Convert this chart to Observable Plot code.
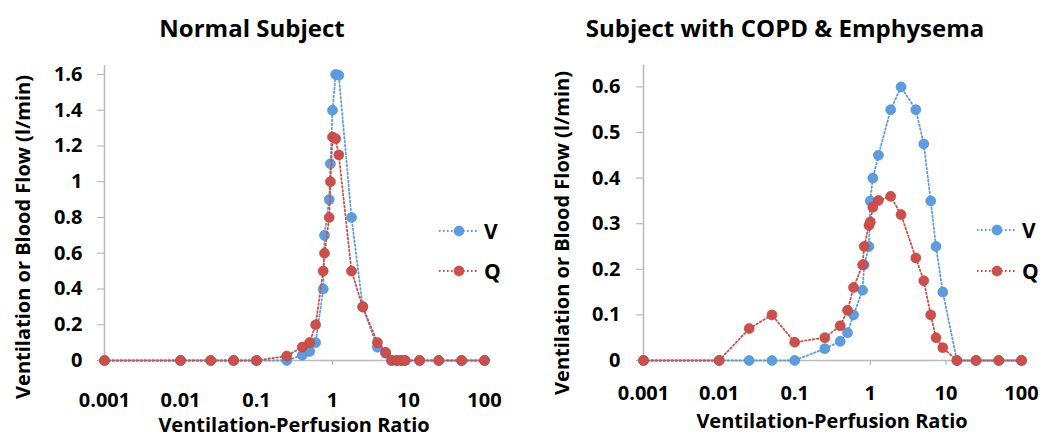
<!DOCTYPE html>
<html><head><meta charset="utf-8">
<script src="https://cdn.jsdelivr.net/npm/d3@7"></script>
<script src="https://cdn.jsdelivr.net/npm/@observablehq/plot@0.6"></script>
<style>
html,body{margin:0;padding:0;background:#fff;}
#root{position:relative;width:1045px;height:438px;overflow:hidden;font-family:"Open Sans",sans-serif;font-weight:700;color:#000;}
.abs{position:absolute;white-space:nowrap;line-height:1;}
</style></head><body><div id="root"></div>
<script>
// ---- data ----
const normalRatio = [0.001, 0.01, 0.025, 0.05, 0.1, 0.25, 0.4, 0.5, 0.6, 0.755, 0.785, 0.905, 0.94, 1.0, 1.1, 1.21, 1.78, 2.5, 3.9, 5, 6, 7, 8, 9, 14, 25, 50, 100];
const normalV = [0, 0, 0, 0, 0, 0, 0.03, 0.05, 0.10, 0.40, 0.70, 0.90, 1.10, 1.40, 1.60, 1.595, 0.80, 0.30, 0.074, 0.04, 0, 0, 0, 0, 0, 0, 0, 0];
const normalQ = [0, 0, 0, 0, 0, 0.025, 0.075, 0.10, 0.20, 0.50, 0.60, 0.80, 1.00, 1.25, 1.24, 1.15, 0.50, 0.30, 0.10, 0.046, 0, 0, 0, 0, 0, 0, 0, 0];

const copdRatio = [0.001, 0.01, 0.025, 0.05, 0.1, 0.25, 0.4, 0.5, 0.6, 0.79, 0.83, 0.96, 1.0, 1.08, 1.28, 1.86, 2.55, 4.0, 5.1, 6.3, 7.4, 9.1, 14, 25, 50, 100];
const copdV = [0, 0, 0, 0, 0, 0.026, 0.042, 0.061, 0.10, 0.154, 0.21, 0.25, 0.35, 0.40, 0.45, 0.55, 0.60, 0.55, 0.475, 0.35, 0.25, 0.15, 0, 0, 0, 0];
const copdQ = [0, 0, 0.07, 0.10, 0.04, 0.05, 0.076, 0.11, 0.16, 0.21, 0.25, 0.296, 0.304, 0.336, 0.351, 0.36, 0.32, 0.225, 0.175, 0.10, 0.05, 0.028, 0, 0, 0, 0];

const xTicks = [0.001, 0.01, 0.1, 1, 10, 100];
const normalYTicks = [0, 0.2, 0.4, 0.6, 0.8, 1, 1.2, 1.4, 1.6];
const copdYTicks = [0, 0.1, 0.2, 0.3, 0.4, 0.5, 0.6];
const seriesNames = ["V", "Q"];
const titles = ["Normal Subject", "Subject with COPD & Emphysema"];
const xLabel = "Ventilation-Perfusion Ratio";
const yLabel = "Ventilation or Blood Flow (l/min)";
const colors = {V: "#5b9de0", Q: "#cf4f48"};
const edge = {V: "#4a88cc", Q: "#b8403a"};

const root = document.getElementById("root");

function addDiv(text, css) {
  const d = document.createElement("div");
  d.className = "abs";
  d.textContent = text;
  Object.assign(d.style, css);
  root.appendChild(d);
  return d;
}

function chart(cfg) {
  const rows = {};
  rows.V = cfg.ratio.map((r, i) => ({series: "V", ratio: r, value: cfg.V[i]}));
  rows.Q = cfg.ratio.map((r, i) => ({series: "Q", ratio: r, value: cfg.Q[i]}));
  const marks = [
    Plot.ruleY([0], {stroke: "#b9b9b9", strokeWidth: 1.5}),
    Plot.ruleX([0.001], {stroke: "#b9b9b9", strokeWidth: 1.5}),
    Plot.axisX({ticks: xTicks, tickFormat: d => String(d), tickSize: 5, tickPadding: cfg.xPad, stroke: "#b0b0b0", fill: "#000", label: null}),
    Plot.axisY({ticks: cfg.yTicks, tickFormat: d => String(d), tickSize: 7, tickPadding: cfg.yPad, stroke: "#b0b0b0", fill: "#000", label: null})
  ];
  for (const s of seriesNames) {
    marks.push(Plot.line(rows[s], {x: "ratio", y: "value", stroke: colors[s], strokeWidth: 1.8, strokeDasharray: "1.6 2.4"}));
    marks.push(Plot.dot(rows[s], {x: "ratio", y: "value", r: 5, fill: colors[s], stroke: edge[s], strokeWidth: 0.6}));
  }
  const svg = Plot.plot({
    width: 522, height: 438,
    marginLeft: cfg.ml, marginRight: cfg.mr, marginTop: 65, marginBottom: 78,
    x: {type: "log", domain: [0.001, 100]},
    y: {domain: [0, cfg.yMax]},
    style: {fontFamily: "'Open Sans', sans-serif", fontWeight: "bold", fontSize: "20px", background: "transparent"},
    marks
  });
  svg.style.position = "absolute";
  svg.style.left = cfg.left + "px";
  svg.style.top = "0px";
  root.appendChild(svg);

  // title
  addDiv(cfg.title, {left: cfg.titleX + "px", top: cfg.titleY + "px", fontSize: "24px", transform: "translate(-50%,-50%)"});
  // x label
  addDiv(xLabel, {left: cfg.xlX + "px", top: cfg.xlY + "px", fontSize: "20px", transform: "translate(-50%,-50%)"});
  // y label
  addDiv(yLabel, {left: cfg.ylX + "px", top: cfg.ylY + "px", fontSize: "20px", transform: "translate(-50%,-50%) rotate(-90deg)"});
  // legend
  seriesNames.forEach((s, i) => {
    const item = document.createElement("div");
    item.className = "abs";
    Object.assign(item.style, {left: cfg.legX + "px", top: (cfg.legY[i] - 12) + "px", height: "24px", display: "flex", alignItems: "center", fontSize: "21px"});
    item.innerHTML = `<svg width="40" height="24" style="display:block"><line x1="0" x2="40" y1="12" y2="12" stroke="${colors[s]}" stroke-width="1.8" stroke-dasharray="1.6 2.4"/><circle cx="20" cy="12" r="5" fill="${colors[s]}" stroke="${edge[s]}" stroke-width="0.6"/></svg><span style="margin-left:5px;line-height:1">${s}</span>`;
    root.appendChild(item);
  });
}

chart({ratio: normalRatio, V: normalV, Q: normalQ, yTicks: normalYTicks, yMax: 1.65,
  left: 0, ml: 104, mr: 38, xPad: 27, yPad: 15,
  title: titles[0], titleX: 252, titleY: 28, xlX: 294, xlY: 425, ylX: 23, ylY: 237,
  legX: 439, legY: [231, 271]});
chart({ratio: copdRatio, V: copdV, Q: copdQ, yTicks: copdYTicks, yMax: 0.647,
  left: 523, ml: 120, mr: 24, xPad: 20, yPad: 16,
  title: titles[1], titleX: 785, titleY: 28, xlX: 832, xlY: 421, ylX: 562, ylY: 233,
  legX: 977, legY: [230, 271]});
</script>
</body></html>
